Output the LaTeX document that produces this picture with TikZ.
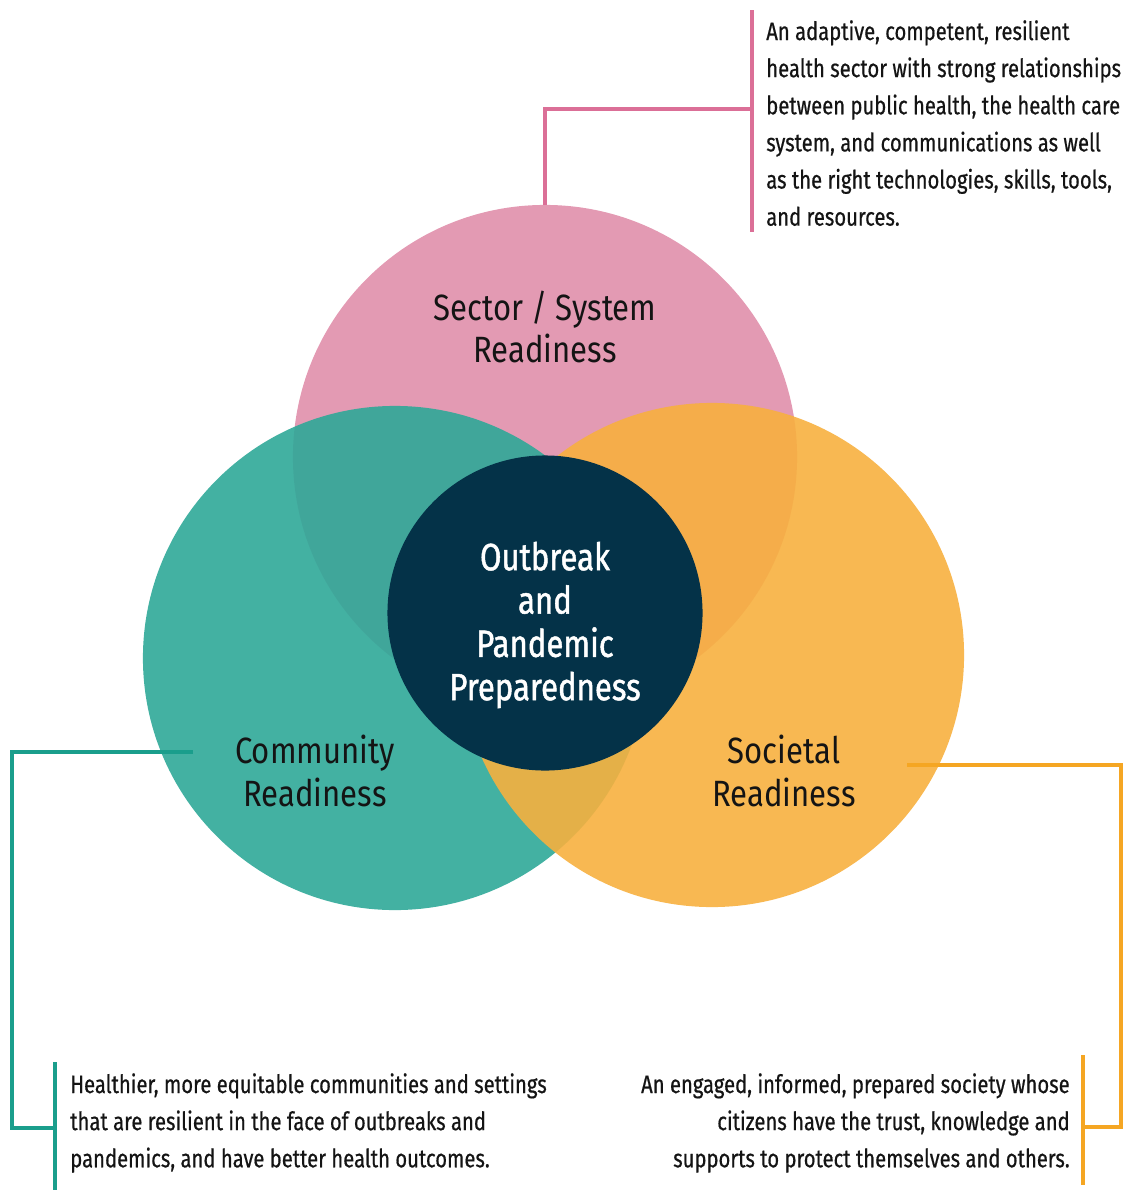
\documentclass[tikz,border=0pt]{standalone}
\usepackage{fontspec}
\setmainfont{Fira Sans}[FakeStretch=0.8]
\newfontfamily\notefont{Fira Sans}[FakeStretch=0.8, FakeBold=0.6]
\newfontfamily\ringfont{Fira Sans}[FakeStretch=0.85]
\newfontfamily\corefont{Fira Sans}[FakeStretch=0.82, FakeBold=1.2]

\definecolor{sectorpink}{RGB}{227,154,179}
\definecolor{communityteal}{RGB}{47,168,152}
\definecolor{societalorange}{RGB}{247,176,63}
\definecolor{corenavy}{RGB}{4,50,72}
\definecolor{sectorline}{RGB}{219,111,151}
\definecolor{communityline}{RGB}{26,158,140}
\definecolor{societalline}{RGB}{245,166,35}
\definecolor{textdark}{RGB}{20,20,20}

\begin{document}
\begin{tikzpicture}[x=0.025cm, y=-0.025cm,
  ring/.style={circle, minimum size=12.6cm, inner sep=0pt},
  ringlabel/.style={align=center, inner sep=0pt, text=textdark, font=\ringfont\fontsize{26}{30}\selectfont},
  note/.style={inner sep=0pt, text=textdark, font=\notefont\fontsize{18}{26.4}\selectfont},
  link/.style={line width=2.8pt}]
\useasboundingbox (0,0) rectangle (1132,1190);

% Draw the three readiness circles
\node[ring, fill=sectorpink] (sector) at (545,457) {};
\node[ring, fill=communityteal, fill opacity=0.9] (community) at (395,658) {};
\node[ring, fill=societalorange, fill opacity=0.9] (societal) at (712,655) {};

% Draw the core
\node[circle, fill=corenavy, minimum size=7.875cm, inner sep=0pt] (core) at (545,613) {};

% Circle labels
\node[ringlabel] (sectortext) at (545,327) {Sector / System\\Readiness};
\node[ringlabel] (communitytext) at (315,771) {Community\\Readiness};
\node[ringlabel] (societaltext) at (784,771) {Societal\\Readiness};
\node[ringlabel, text=white, font=\corefont\fontsize{27}{30.8}\selectfont] (coretext) at (545,625) {Outbreak\\and\\Pandemic\\Preparedness};

% Descriptions
\node[note, anchor=north west, align=left] (sectornote) at (766,20) {An adaptive, competent, resilient\\health sector with strong relationships\\between public health, the health care\\system, and communications as well\\as the right technologies, skills, tools,\\and resources.};
\node[note, anchor=north west, align=left] (communitynote) at (70,1073) {Healthier, more equitable communities and settings\\that are resilient in the face of outbreaks and\\pandemics, and have better health outcomes.};
\node[note, anchor=north east, align=right] (societalnote) at (1070,1073) {An engaged, informed, prepared society whose\\citizens have the trust, knowledge and\\supports to protect themselves and others.};

% Draw the connectors
\coordinate (sectorknee) at (545,109);
\coordinate (sectorbartop) at (752,10);
\coordinate (sectorbarbot) at (752,232);
\draw[link, sectorline] (sector.north) -- (sectorknee) -- (sectorknee -| sectorbartop);
\draw[link, sectorline] (sectorbartop) -- (sectorbarbot);

\coordinate (communitytip) at (193,752);
\coordinate (communityknee) at (12,1128);
\coordinate (communitybartop) at (55,1062);
\coordinate (communitybarbot) at (55,1190);
\draw[link, communityline] (communitytip) -- (communitytip -| communityknee) -- (communityknee) -- (communityknee -| communitybartop);
\draw[link, communityline] (communitybartop) -- (communitybarbot);

\coordinate (societaltip) at (907,765);
\coordinate (societalknee) at (1121,1127);
\coordinate (societalbartop) at (1083,1055);
\coordinate (societalbarbot) at (1083,1185);
\draw[link, societalline] (societaltip) -- (societaltip -| societalknee) -- (societalknee) -- (societalknee -| societalbartop);
\draw[link, societalline] (societalbartop) -- (societalbarbot);
\end{tikzpicture}
\end{document}
